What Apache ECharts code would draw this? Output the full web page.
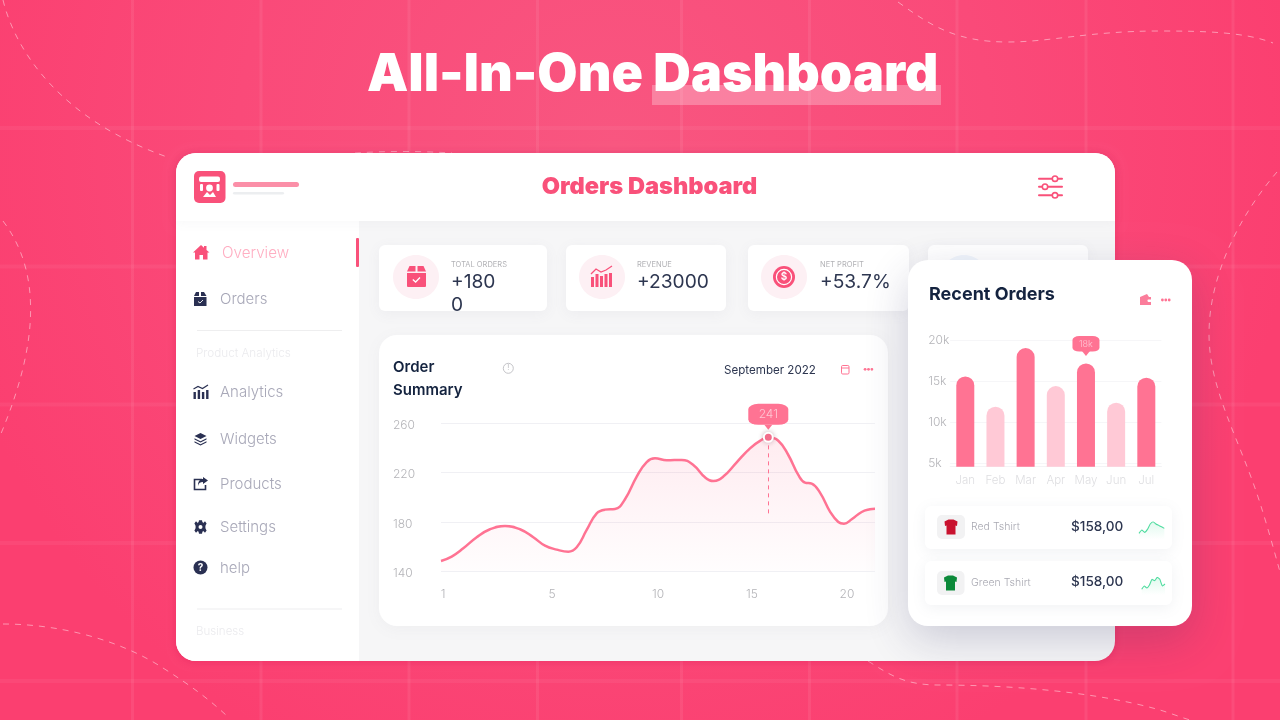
<!DOCTYPE html>
<html>
<head>
<meta charset="utf-8">
<title>All-In-One Dashboard</title>
<script src="https://cdn.jsdelivr.net/npm/echarts@6/dist/echarts.min.js"></script>
<style>
    html, body { margin: 0; padding: 0; background: #fb4070; }
    #main { width: 1280px; height: 720px; }
</style>
</head>
<body>
<div id="main"></div>
<script>
// order summary line
var orderX = [0, 10.7, 22.3, 35.7, 49, 64, 79, 92.3, 104, 115.7, 127.3, 135.7, 145.7, 155.7, 164, 174, 184, 195.7, 205.7, 214, 225.7, 240.7, 252.3, 264, 272.3, 282.3, 295.7, 309, 319, 327.3, 337.3, 347.3, 357.3, 364, 370.7, 379, 389, 397.3, 403, 410.7, 420.7, 429, 434];
var orderY = [148.4, 151.9, 158.6, 167.6, 174.1, 176.8, 174.1, 167.6, 160.8, 157.6, 155.9, 159.5, 173.5, 187, 190, 190.5, 198.4, 216.8, 228.6, 231.6, 230, 230.3, 226.2, 216.2, 213.2, 216.8, 228.4, 239.7, 245.7, 248.6, 245.9, 234.3, 218.1, 211.9, 211.1, 203.8, 188.4, 180, 178.6, 182.2, 188.1, 190.3, 190.8];
var orderYTicks = [140, 180, 220, 260];
var orderXTicks = [2, 111, 217, 311, 406];
var orderXLabels = ['1', '5', '10', '15', '20'];
var orderPeak = [327.3, 248.6];
var orderPeakLabel = '241';
var orderDropEnd = 184;

// recent orders bars
var months = ['Jan', 'Feb', 'Mar', 'Apr', 'May', 'Jun', 'Jul'];
var monthValues = [15.63, 11.92, 19.1, 14.45, 17.22, 12.41, 15.47];
var recentYTicks = [5, 10, 15, 20];
var recentPeakLabel = '18k';

// product sparklines
var redSpark = [18, 28, 21, 30, 46, 53, 46, 42, 38, 33];
var greenSpark = [17, 27, 21, 30, 47, 43, 53, 47, 27, 33];

var PINK = '#f9517a';
var BAR = '#ff7393';
var BAR_LIGHT = '#ffc9d6';
var NAVY = '#2a3052';
var INK = '#14233f';
var FONT = 'Inter, "Noto Sans", sans-serif';

var shapeCount = 0;

// graphic has no plain svg path element, so each one gets its own shape class
function pathShape(d) {
    var name = 'svgPath' + (shapeCount++);
    echarts.graphic.registerShape(name, echarts.graphic.extendPath(d, {}));
    return name;
}

function txt(x, y, text, size, weight, color, align) {
    return {
        type: 'text', z: -1, x: x, y: y + 1,
        style: {
            text: text,
            font: weight + ' ' + size + 'px ' + FONT,
            fill: color,
            align: align || 'left',
            verticalAlign: 'middle'
        }
    };
}

function box(x, y, w, h, r, fill, extra) {
    var style = { fill: fill };
    if (extra) {
        for (var k in extra) { style[k] = extra[k]; }
    }
    return { type: 'rect', z: -1, shape: { x: x, y: y, width: w, height: h, r: r }, style: style };
}

function dot(x, y, r, fill, extra) {
    var style = { fill: fill };
    if (extra) {
        for (var k in extra) { style[k] = extra[k]; }
    }
    return { type: 'circle', z: -1, shape: { cx: x, cy: y, r: r }, style: style };
}

function icon(d, fill) {
    return { type: pathShape(d), z: -1, style: { fill: fill } };
}

function stroke(d, color, width, dash) {
    var style = { fill: 'none', stroke: color, lineWidth: width };
    if (dash) { style.lineDash = dash; }
    return { type: pathShape(d), z: -1, style: style };
}

function threeDots(x, y) {
    return [dot(x - 3.4, y, 1.4, BAR), dot(x, y, 1.4, BAR), dot(x + 3.4, y, 1.4, BAR)];
}

function barsIcon(x, y, c) {
    // small column chart with trend line, x/y is top left
    return [
        box(x, y + 7, 2.4, 7, 0, c), box(x + 4.2, y + 5, 2.4, 9, 0, c),
        box(x + 8.4, y + 7, 2.4, 7, 0, c), box(x + 12.6, y + 5, 2.4, 9, 0, c),
        stroke('M' + x + ' ' + (y + 4) + ' L' + (x + 4.5) + ' ' + (y + 1.5) + ' L' + (x + 9) + ' ' + (y + 3.5) + ' L' + (x + 14.5) + ' ' + y, c, 1.2)
    ];
}

function background() {
    var out = [];
    out.push({
        type: 'rect', z: -1, shape: { x: 0, y: 0, width: 1280, height: 720 },
        style: {
            fill: new echarts.graphic.RadialGradient(0.48, 0.2, 0.95, [
                { offset: 0, color: '#f85680' },
                { offset: 0.55, color: '#fa4a79' },
                { offset: 1, color: '#fb3f70' }
            ])
        }
    });
    [132.5, 261, 409, 537.5, 681.5, 809.5, 957, 1086, 1233].forEach(function (x) {
        out.push(box(x - 1.5, 0, 3, 720, 0, 'rgba(255,255,255,0.07)'));
    });
    [128, 266.5, 404.5, 543, 681].forEach(function (y) {
        out.push(box(0, y - 2, 1280, 4, 0, 'rgba(255,255,255,0.05)'));
    });
    var curves = [
        'M3 0 C 15 50, 60 120, 170 158',
        'M3 221 C 25 250, 33 285, 30 325 C 27 365, 13 405, 0 436',
        'M3 624 C 60 624, 120 640, 163 668 C 190 685, 210 700, 227 716',
        'M1277 172 C 1240 215, 1209 275, 1209 334 C 1209 390, 1240 440, 1260 503 C 1267 525, 1274 550, 1280 572',
        'M868 661 C 890 675, 905 685, 938 685 C 1000 685, 1090 690, 1160 710 C 1170 713, 1180 717, 1190 720',
        'M898 2 C 930 25, 955 42, 1008 42 C 1050 42, 1090 31, 1159 31 C 1205 31, 1245 32, 1273 43',
        'M355 153 C 385 151, 420 151, 452 153'
    ];
    curves.forEach(function (d) {
        out.push(stroke(d, 'rgba(255,255,255,0.45)', 1, [6, 6]));
    });
    return out;
}

function heading() {
    return [
        box(652, 85, 289, 20, 0, 'rgba(255,255,255,0.27)'),
        txt(367, 74, 'All-In-One Dashboard', 52, 900, '#ffffff')
    ];
}

function mainPanel() {
    var out = [];
    out.push(box(176, 153, 939, 508, 20, '#f6f6f7', { shadowBlur: 8, shadowColor: 'rgba(210,20,80,0.35)', shadowOffsetY: 1 }));
    out.push(box(176, 221, 183, 440, [0, 0, 0, 20], '#ffffff'));
    out.push(box(176, 153, 939, 68, [20, 20, 0, 0], '#ffffff', { shadowBlur: 12, shadowColor: 'rgba(120,120,140,0.06)', shadowOffsetY: 2 }));
    // logo
    out.push(box(194, 171, 31.5, 32, 5, PINK));
    out.push(box(199, 176.5, 21, 5.5, 2, '#ffffff'));
    out.push(box(200, 184, 3, 7, 1, '#ffffff'));
    out.push(box(216.5, 184, 3, 7, 1, '#ffffff'));
    out.push(dot(209.5, 188, 3.4, '#ffffff'));
    out.push(icon('M203 197 L207 192 L210 195 L213 192 L216 197 Z', '#ffffff'));
    out.push(box(233, 182, 66, 5, 2.5, '#fb8fa8'));
    out.push(box(233, 192, 51, 2.5, 1.2, '#eceef0'));
    out.push(txt(649.5, 185.5, 'Orders Dashboard', 23.6, 900, PINK, 'center'));
    // filter icon
    [[178.7, 1055], [186.7, 1045], [195.3, 1055]].forEach(function (row) {
        out.push(box(1038, row[0] - 1, 25, 2, 1, PINK));
        out.push(dot(row[1], row[0], 2.7, '#ffffff', { stroke: PINK, lineWidth: 1.6 }));
    });
    return out;
}

function sidebar() {
    var out = [];
    var grey = '#a8a8b8';
    out.push(box(356, 238, 3, 29, 1, PINK));
    out.push(icon('M193 252.5 L201 245 L204 247.8 L204 246 L206.5 246 L206.5 250 L209.5 252.5 L207.5 252.5 L207.5 259.5 L203 259.5 L203 255 L199.5 255 L199.5 259.5 L195 259.5 L195 252.5 Z', PINK));
    out.push(txt(222, 252.5, 'Overview', 15.2, 300, '#ffaec2'));
    out.push(icon('M194 296 L196 292 L199 292 L199 296 Z M201 296 L201 292 L204 292 L206.5 296 Z M194 297 L206.5 297 L206.5 306 L194 306 Z', NAVY));
    out.push(stroke('M198 301.5 L200 303 L203 300', '#ffffff', 0.9));
    out.push(txt(220, 298.5, 'Orders', 15, 300, grey));
    out.push(box(197, 330, 145, 1, 0, '#eeeeef'));
    out.push(txt(196, 352.5, 'Product Analytics', 11.7, 300, '#ebebee'));
    out = out.concat(barsIcon(193.5, 385, NAVY));
    out.push(txt(220, 391.5, 'Analytics', 15, 300, grey));
    out.push(icon('M200.5 433 L206.5 436 L200.5 439 L194.5 436 Z M194.5 438.3 L200.5 441.3 L206.5 438.3 L206.5 439.5 L200.5 442.6 L194.5 439.5 Z M194.5 441.2 L200.5 444.2 L206.5 441.2 L206.5 442.4 L200.5 445.4 L194.5 442.4 Z', NAVY));
    out.push(txt(220, 438.5, 'Widgets', 15, 300, grey));
    out.push(stroke('M202 479.5 L194.5 479.5 L194.5 489.5 L205.5 489.5 L205.5 485', NAVY, 1.6));
    out.push(icon('M203 477 L208 480.5 L203 484 L203 482 C 200 482, 198.5 483.5, 198 486 C 197.8 481.5, 200 479, 203 479 Z', NAVY));
    out.push(txt(220, 483.5, 'Products', 15, 300, grey));
    out.push(dot(200.5, 527, 5, NAVY));
    out.push(icon('M199 520.3 L202 520.3 L202.6 523 L198.4 523 Z M199 533.7 L202 533.7 L202.6 531 L198.4 531 Z M194.4 523.5 L196 521.3 L198 523.3 L195.8 526 Z M206.6 523.5 L205 521.3 L203 523.3 L205.2 526 Z M194.4 530.5 L196 532.7 L198 530.7 L195.8 528 Z M206.6 530.5 L205 532.7 L203 530.7 L205.2 528 Z', NAVY));
    out.push(dot(200.5, 527, 2, '#ffffff'));
    out.push(txt(220, 526.5, 'Settings', 15, 300, grey));
    out.push(dot(200.5, 567.5, 7, NAVY));
    out.push(txt(200.5, 566.8, '?', 10, 700, '#ffffff', 'center'));
    out.push(txt(220, 567.5, 'help', 15, 300, grey));
    out.push(box(197, 608.5, 145, 1, 0, '#eeeeef'));
    out.push(txt(196, 630.5, 'Business', 11.5, 300, '#ebebee'));
    return out;
}

function statCard(x, w, circleX, textX, label, value, circleColor) {
    var shadow = { shadowBlur: 14, shadowColor: 'rgba(120,120,140,0.07)', shadowOffsetY: 3 };
    var out = [box(x, 245, w, 66, 6, '#ffffff', shadow)];
    out.push({ type: 'ellipse', z: -1, shape: { cx: circleX, cy: 277, rx: 23, ry: 22 }, style: { fill: circleColor } });
    if (label) {
        out.push(txt(textX, 264, label, 7.5, 400, '#b2b2b6'));
        out.push(txt(textX, 281, value, 19.2, 400, '#2d3650'));
    }
    return out;
}

function statCards() {
    var out = [];
    out = out.concat(statCard(379, 168, 416, 451, 'TOTAL ORDERS', '+180', '#fdf0f4'));
    out.push(txt(451, 304, '0', 19.2, 400, '#2d3650'));
    out.push(icon('M407 271.5 L409.5 266 L415.5 266 L415.5 271.5 Z M417.5 271.5 L417.5 266 L423.5 266 L426 271.5 Z M407 273 L426 273 L426 286 Q426 287, 425 287 L408 287 Q407 287, 407 286 Z', PINK));
    out.push(stroke('M412.8 279.5 L415.6 282 L420 277.5', '#ffffff', 1.3));
    out = out.concat(statCard(566, 160, 602, 637, 'REVENUE', '+23000', '#fdf0f4'));
    out.push(stroke('M591 274 L596 269 L601 272 L606 270 L612 266', PINK, 1.3));
    out.push(box(591, 277, 3, 10, 0, PINK));
    out.push(box(595.5, 274, 3, 13, 0, PINK));
    out.push(box(600, 276, 3, 11, 0, PINK));
    out.push(box(604.5, 274, 3, 13, 0, PINK));
    out.push(box(609, 273, 3, 14, 0, PINK));
    out = out.concat(statCard(748, 161, 784, 820, 'NET PROFIT', '+53.7%', '#fdf0f4'));
    out.push(dot(784, 277, 11, PINK));
    out.push(dot(784, 277, 7.6, PINK, { stroke: '#ffffff', lineWidth: 1.2 }));
    out.push(txt(784, 276.3, '$', 10, 600, '#ffffff', 'center'));
    out = out.concat(statCard(928, 160, 964, 0, '', '', '#f0f5fc'));
    return out;
}

function orderCard() {
    var out = [];
    out.push(box(379, 335, 509, 291, 18, '#ffffff', { shadowBlur: 16, shadowColor: 'rgba(120,120,140,0.06)', shadowOffsetY: 3 }));
    out.push(txt(393, 366.5, 'Order', 15, 600, INK));
    out.push(txt(393, 389.5, 'Summary', 15, 600, INK));
    out.push(dot(508.3, 368.3, 5, 'none', { stroke: '#c4c4c8', lineWidth: 1 }));
    out.push(txt(508.3, 367.3, '!', 7, 500, '#c4c4c8', 'center'));
    out.push(txt(724, 369.5, 'September 2022', 11.6, 400, '#2d3650'));
    out.push(box(841.5, 365.5, 7.5, 8.5, 1.2, 'none', { stroke: BAR, lineWidth: 1 }));
    out.push(box(841.5, 367.5, 7.5, 1, 0, BAR));
    out = out.concat(threeDots(868.5, 369.3));
    return out;
}

function tshirt(cx, cy, c) {
    var d = 'M' + (cx - 2.5) + ' ' + (cy - 7.5) + ' L' + (cx + 2.5) + ' ' + (cy - 7.5) +
        ' L' + (cx + 6.5) + ' ' + (cy - 5.5) + ' L' + (cx + 6) + ' ' + (cy - 1) + ' L' + (cx + 4.5) + ' ' + (cy - 1.5) +
        ' L' + (cx + 4.5) + ' ' + (cy + 7.5) + ' L' + (cx - 4.5) + ' ' + (cy + 7.5) + ' L' + (cx - 4.5) + ' ' + (cy - 1.5) +
        ' L' + (cx - 6) + ' ' + (cy - 1) + ' L' + (cx - 6.5) + ' ' + (cy - 5.5) + ' Z';
    return icon(d, c);
}

function recentCard() {
    var out = [];
    out.push(box(908, 260, 284, 366, 20, '#ffffff', { shadowBlur: 44, shadowColor: 'rgba(50,50,100,0.22)', shadowOffsetY: 14 }));
    out.push(txt(929, 294, 'Recent Orders', 18, 700, INK));
    out.push(icon('M1140 297 L1147 294 L1149 297 L1151 297 L1151 305 L1140 305 Z', '#fb7d9b'));
    out.push(box(1147.5, 299.5, 4, 2.4, 0.8, '#ffffff'));
    out = out.concat(threeDots(1165.8, 300));
    var rowShadow = { shadowBlur: 14, shadowColor: 'rgba(120,130,150,0.10)', shadowOffsetY: 3 };
    out.push(box(925, 506, 247, 43, 6, '#ffffff', rowShadow));
    out.push(box(925, 561, 247, 44, 6, '#ffffff', rowShadow));
    out.push(box(937, 515, 28, 24, 5, '#f2f2f3'));
    out.push(box(937, 571, 27.5, 24, 5, '#f2f2f3'));
    out.push(tshirt(951, 527, '#c9122f'));
    out.push(tshirt(950.5, 583, '#0c8a3a'));
    out.push(txt(971, 526, 'Red Tshirt', 10.5, 300, '#a9a9b2'));
    out.push(txt(971, 582, 'Green Tshirt', 10.5, 300, '#a9a9b2'));
    out.push(txt(1071, 526, '$158,00', 13.6, 500, '#2d3650'));
    out.push(txt(1071, 581, '$158,00', 13.6, 500, '#2d3650'));
    return out;
}

function peakMarks(coord, text, w, h, rectOffset, tipOffset, fontSize) {
    return [
        {
            coord: coord, symbol: 'roundRect', symbolSize: [w, h], symbolOffset: [0, rectOffset],
            itemStyle: { color: BAR },
            label: { show: true, position: 'inside', formatter: text, color: '#ffc6d4', fontFamily: FONT, fontSize: fontSize, fontWeight: 300 }
        },
        {
            coord: coord, symbol: 'triangle', symbolRotate: 180, symbolSize: [8, 5], symbolOffset: [0, tipOffset],
            itemStyle: { color: BAR }, label: { show: false }
        }
    ];
}

function sparkSeries(name, values, axisIndex) {
    return {
        name: name, type: 'line', xAxisIndex: axisIndex, yAxisIndex: axisIndex,
        data: values, smooth: 0.15, symbol: 'none', silent: true, animation: false,
        lineStyle: { color: '#4fdc9f', width: 1.1 },
        areaStyle: {
            origin: 'start',
            color: new echarts.graphic.LinearGradient(0, 0, 0, 1, [
                { offset: 0, color: 'rgba(95,227,168,0.28)' },
                { offset: 1, color: 'rgba(95,227,168,0)' }
            ])
        }
    };
}

function hiddenAxis(type, grid, extra) {
    var axis = { type: type, gridIndex: grid, show: false };
    for (var k in extra) { axis[k] = extra[k]; }
    return axis;
}

var myChart = echarts.init(document.getElementById('main'), null, { renderer: 'canvas', width: 1280, height: 720 });

var axisText = { color: '#b4b4b8', fontFamily: FONT, fontWeight: 300 };

var option = {
    animation: false,
    textStyle: { fontFamily: FONT },
    graphic: {
        elements: [].concat(background(), heading(), mainPanel(), sidebar(), statCards(), orderCard(), recentCard())
    },
    grid: [
        { left: 441, top: 423.3, width: 434, height: 148 },
        { left: 950.2, top: 340.7, width: 211.2, height: 126 },
        { left: 1139, top: 521.7, width: 25.3, height: 17.7 },
        { left: 1141.7, top: 577.3, width: 23.3, height: 17.7 }
    ],
    xAxis: [
        {
            type: 'value', gridIndex: 0, min: 0, max: 434,
            axisLine: { show: false }, splitLine: { show: false },
            axisTick: { show: false, customValues: orderXTicks },
            axisLabel: {
                customValues: orderXTicks, margin: 17.5, fontSize: 12,
                color: axisText.color, fontFamily: FONT, fontWeight: 300,
                formatter: function (v) { return orderXLabels[orderXTicks.indexOf(v)]; }
            }
        },
        {
            type: 'category', gridIndex: 1, data: months,
            axisLine: { lineStyle: { color: '#f3f3f5' } }, axisTick: { show: false },
            axisLabel: { interval: 0, margin: 8, fontSize: 11.5, color: '#dedee1', fontFamily: FONT, fontWeight: 300 }
        },
        hiddenAxis('category', 2, { boundaryGap: false }),
        hiddenAxis('category', 3, { boundaryGap: false })
    ],
    yAxis: [
        {
            type: 'value', gridIndex: 0, min: 140, max: 260,
            axisLine: { show: false },
            axisTick: { show: false, customValues: orderYTicks },
            splitLine: { show: true, lineStyle: { color: '#f0f0f4', width: 1 } },
            axisLabel: {
                customValues: orderYTicks, align: 'left', margin: 48,
                formatter: function (v) { return '{t|' + v + '}'; },
                rich: {
                    // pushes the text a little below its gridline
                    t: { padding: [4, 0, 0, 0], fontSize: 12, color: axisText.color, fontFamily: FONT, fontWeight: 300 }
                }
            }
        },
        {
            type: 'value', gridIndex: 1, min: 4.57, max: 20,
            axisLine: { show: false },
            axisTick: { show: false, customValues: recentYTicks },
            splitLine: { show: true, lineStyle: { color: '#f6f6f8', width: 1 } },
            axisLabel: {
                customValues: recentYTicks, align: 'left', margin: 22, fontSize: 12,
                color: axisText.color, fontFamily: FONT, fontWeight: 300,
                formatter: function (v) { return v + 'k'; }
            }
        },
        hiddenAxis('value', 2, { min: 0, max: 53 }),
        hiddenAxis('value', 3, { min: 0, max: 53 })
    ],
    series: [
        {
            name: 'Order Summary', type: 'line', xAxisIndex: 0, yAxisIndex: 0,
            data: orderX.map(function (x, i) { return [x, orderY[i]]; }),
            smooth: 0.45, symbol: 'none', silent: true, clip: false,
            lineStyle: { color: BAR, width: 2.5 },
            areaStyle: {
                origin: 'start',
                color: new echarts.graphic.LinearGradient(0, 0, 0, 1, [
                    { offset: 0, color: 'rgba(255,115,147,0.20)' },
                    { offset: 1, color: 'rgba(255,115,147,0.02)' }
                ])
            },
            markLine: {
                silent: true, symbol: 'none', animation: false,
                label: { show: false },
                lineStyle: { color: BAR, type: [4, 4], width: 1 },
                data: [[{ coord: orderPeak }, { coord: [orderPeak[0], orderDropEnd] }]]
            },
            markPoint: {
                silent: true, animation: false,
                data: peakMarks(orderPeak, orderPeakLabel, 40, 21, -23, -10, 12).concat([{
                    coord: orderPeak, symbol: 'circle', symbolSize: 9,
                    itemStyle: { color: BAR, borderColor: '#ffffff', borderWidth: 2, shadowBlur: 5, shadowColor: 'rgba(120,60,80,0.3)' },
                    label: { show: false }
                }])
            }
        },
        {
            name: 'Recent Orders', type: 'bar', xAxisIndex: 1, yAxisIndex: 1,
            data: monthValues, barWidth: 18, silent: true,
            itemStyle: {
                borderRadius: [9, 9, 0, 0],
                color: function (p) { return p.dataIndex % 2 === 0 ? BAR : BAR_LIGHT; }
            },
            markPoint: {
                silent: true, animation: false,
                data: peakMarks([months[4], monthValues[4]], recentPeakLabel, 27, 15.5, -19.6, -10, 9)
            }
        },
        sparkSeries('Red Tshirt', redSpark, 2),
        sparkSeries('Green Tshirt', greenSpark, 3)
    ]
};

myChart.setOption(option);
</script>
</body>
</html>
